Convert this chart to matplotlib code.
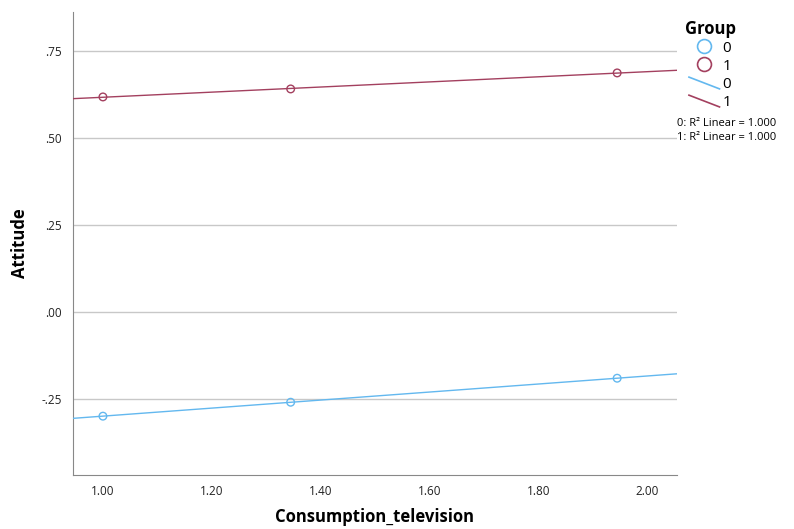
import numpy as np
import matplotlib.pyplot as plt
from matplotlib.lines import Line2D
from matplotlib.legend_handler import HandlerLine2D

plt.rcParams['font.family'] = ['Open Sans', 'DejaVu Sans']

x0 = [1.00, 1.345, 1.945]
y0 = [-0.299, -0.259, -0.190]
x1 = [1.00, 1.345, 1.945]
y1 = [0.618, 0.641, 0.687]
groups = ['0', '1']
blue = '#63b8ef'
red = '#a3405f'


class DiagHandler(HandlerLine2D):
    # slanted line sample, like the SPSS legend
    def create_artists(self, legend, orig_handle, xdescent, ydescent,
                       width, height, fontsize, trans):
        ln = Line2D([0, width], [height, -0.1 * height], color=orig_handle.get_color(),
                    lw=orig_handle.get_linewidth())
        ln.set_transform(trans)
        return [ln]


fig = plt.figure(figsize=(7.94, 5.29), dpi=100)
ax = fig.add_axes([73 / 794, 54 / 529, 604 / 794, 463 / 529])

xl = np.array([0.945, 2.055])
for xs, ys, c in [(x0, y0, blue), (x1, y1, red)]:
    k, b = np.polyfit(xs, ys, 1)
    ax.plot(xl, k * xl + b, color=c, lw=1, zorder=3)
    ax.scatter(xs, ys, s=30, facecolors='none', edgecolors=c, lw=1, zorder=4)

ax.set_xlim(0.945, 2.055)
ax.set_ylim(-0.468, 0.862)
ax.set_xticks([1.0, 1.2, 1.4, 1.6, 1.8, 2.0])
ax.set_xticklabels(['1.00', '1.20', '1.40', '1.60', '1.80', '2.00'])
ax.set_yticks([-0.25, 0.0, 0.25, 0.5, 0.75])
ax.set_yticklabels(['-.25', '.00', '.25', '.50', '.75'])
ax.tick_params(length=0, labelsize=8.5, colors='#222222')
ax.tick_params(axis='x', pad=7)
ax.tick_params(axis='y', pad=8)
ax.grid(axis='y', color='#c8c8c8', lw=1)
ax.set_axisbelow(True)
for s in ['top', 'right']:
    ax.spines[s].set_visible(False)
for s in ['left', 'bottom']:
    ax.spines[s].set_color('#888888')
fig.text(375 / 794, 1 - 517 / 529, 'Consumption_television', fontsize=12,
         fontweight='bold', ha='center', va='center')
fig.text(20 / 794, 1 - 243 / 529, 'Attitude', fontsize=12, fontweight='bold',
         ha='center', va='center', rotation=90)

mk = [Line2D([], [], ls='none', marker='o', ms=10, mfc='none', mec=c, mew=1.2)
      for c in (blue, red)]
ln = [Line2D([], [], color=c, lw=1.2) for c in (blue, red)]
leg = fig.legend(mk + ln, groups + groups, title='Group', loc='upper left',
                 bbox_to_anchor=(677 / 794, 1 - 12 / 529), frameon=False,
                 fontsize=11, handlelength=2.0, handletextpad=0.2,
                 labelspacing=0.2, borderpad=0,
                 handler_map={ln[0]: DiagHandler(), ln[1]: DiagHandler()})
leg.get_title().set_fontweight('bold')
leg.get_title().set_fontsize(12)
fig.text(677 / 794, 1 - 124 / 529, '0: R² Linear = 1.000', fontsize=8, va='center')
fig.text(677 / 794, 1 - 138 / 529, '1: R² Linear = 1.000', fontsize=8, va='center')

fig.savefig('out.png', dpi=100)
